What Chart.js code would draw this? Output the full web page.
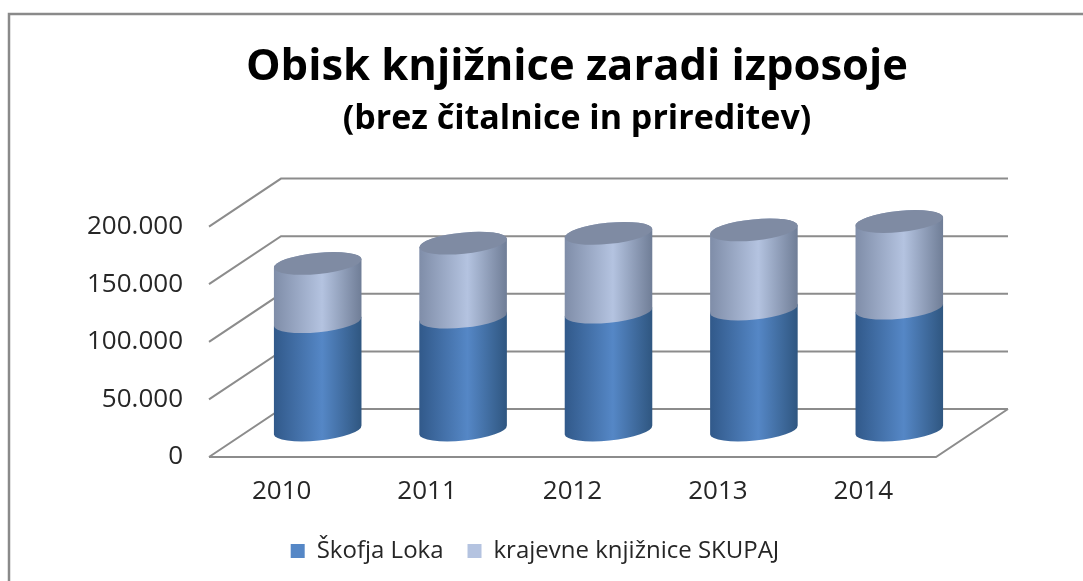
<!DOCTYPE html>
<html lang="en">
<head>
    <meta charset="UTF-8">
    <title>Obisk knjižnice zaradi izposoje</title>
    <script src="https://cdn.jsdelivr.net/npm/chart.js"></script>
    <style>
        body { margin: 0; background: #fff; }
        canvas { display: block; }
    </style>
</head>
<body>
    <canvas id="chart" width="1083" height="581"></canvas>

    <script>
        const years = ['2010', '2011', '2012', '2013', '2014'];
        const skofjaLoka = [94000, 98000, 102300, 105000, 105800];
        const krajevne = [50600, 64200, 68400, 68700, 75200];
        const seriesNames = ['Škofja Loka', 'krajevne knjižnice SKUPAJ'];
        const yTicks = [0, 50000, 100000, 150000, 200000];

        const fontName = '"Open Sans", sans-serif';
        const lineColor = '#8c8c8c';
        const depthX = 72, depthY = 48;   // how far the back wall sits behind the front plane
        const barLift = 3;
        const capTilt = -0.1, capRatio = 0.24;
        const barShare = 88 / 145.4;
        const blueStops = ['#31598a', '#5587c6', '#2f5680'];
        const lightStops = ['#7f8da8', '#b4c3e0', '#6f7d96'];

        function sideGradient(ctx, stops) {
            const chart = ctx.chart;
            if (!chart.scales.x || ctx.dataIndex === undefined) return stops[1];
            const step = chart.scales.x.width / years.length;
            const w = step * barShare;
            const cx = chart.scales.x.getPixelForValue(ctx.dataIndex);
            const g = chart.ctx.createLinearGradient(cx - w / 2, 0, cx + w / 2, 0);
            g.addColorStop(0, stops[0]);
            g.addColorStop(0.55, stops[1]);
            g.addColorStop(1, stops[2]);
            return g;
        }

        function drawCylinders(chart, index) {
            const c = chart.ctx;
            chart.getDatasetMeta(index).data.forEach(bar => {
                const rx = bar.width / 2, ry = rx * capRatio;
                c.beginPath();
                c.ellipse(bar.x, bar.base, rx, ry, capTilt, Math.PI, 0, true);
                c.ellipse(bar.x, bar.y, rx, ry, capTilt, 0, Math.PI, true);
                c.closePath();
                c.fillStyle = bar.options.backgroundColor;
                c.fill();
                if (index === 1) {
                    c.beginPath();
                    c.ellipse(bar.x, bar.y, rx, ry, capTilt, 0, Math.PI * 2);
                    c.fillStyle = '#7f8ba3';
                    c.fill();
                }
            });
        }

        // frame, walls, floor, then the cylinders taken from the bar elements
        const cylinderPlugin = {
            id: 'cylinders',
            beforeDatasetsDraw(chart) {
                const c = chart.ctx, area = chart.chartArea, y = chart.scales.y;
                c.save();
                c.strokeStyle = '#8a8a8a';
                c.lineWidth = 2.5;
                c.beginPath();
                c.moveTo(9, 581);
                c.lineTo(9, 14);
                c.lineTo(1083, 14);
                c.stroke();

                c.strokeStyle = lineColor;
                c.lineWidth = 2;
                c.beginPath();
                yTicks.forEach(t => {
                    const py = y.getPixelForValue(t);
                    c.moveTo(area.left, py);
                    c.lineTo(area.left + depthX, py - depthY);
                    c.lineTo(area.right + depthX, py - depthY);
                });
                c.moveTo(area.left, area.bottom);
                c.lineTo(area.right, area.bottom);
                c.lineTo(area.right + depthX, area.bottom - depthY);
                c.stroke();

                // bars stand half way back on the floor
                c.translate(depthX / 2, -depthY / 2 - barLift);
                drawCylinders(chart, 0);
                drawCylinders(chart, 1);
                c.restore();
            },
            beforeDatasetDraw() {
                return false;
            }
        };

        // legend sits a bit left of and above where the layout puts it
        const legendShift = {
            id: 'legendShift',
            beforeDraw(chart) {
                chart.legend.left -= 42;
                chart.legend.right -= 42;
                chart.legend.top -= 8;
            },
            afterDraw(chart) {
                chart.legend.left += 42;
                chart.legend.right += 42;
                chart.legend.top += 8;
            }
        };

        new Chart(document.getElementById('chart'), {
            type: 'bar',
            data: {
                labels: years,
                datasets: [
                    {
                        label: seriesNames[0],
                        data: skofjaLoka,
                        backgroundColor: ctx => sideGradient(ctx, blueStops),
                        borderWidth: 0
                    },
                    {
                        label: seriesNames[1],
                        data: krajevne,
                        backgroundColor: ctx => sideGradient(ctx, lightStops),
                        borderWidth: 0
                    }
                ]
            },
            plugins: [cylinderPlugin, legendShift],
            options: {
                responsive: false,
                animation: false,
                layout: { padding: { left: 71, right: 0, top: 0, bottom: 0 } },
                datasets: { bar: { barPercentage: 1, categoryPercentage: barShare } },
                scales: {
                    x: {
                        stacked: true,
                        afterFit: s => { s.height = 66; },
                        grid: { display: false, drawTicks: false },
                        border: { display: false },
                        ticks: { color: '#262626', padding: 19, font: { family: fontName, size: 26 } }
                    },
                    y: {
                        stacked: true,
                        min: 0,
                        max: 200000,
                        afterFit: s => { s.width = 138; },
                        afterBuildTicks: s => { s.ticks = yTicks.map(v => ({ value: v })); },
                        grid: { display: false, drawTicks: false },
                        border: { display: false },
                        ticks: {
                            color: '#262626',
                            padding: 26,
                            font: { family: fontName, size: 26 },
                            callback: v => v.toLocaleString('de-DE')
                        }
                    },
                    spacer: {
                        position: 'right',
                        afterFit: s => { s.width = 147; },
                        grid: { display: false },
                        border: { display: false },
                        ticks: { display: false }
                    }
                },
                plugins: {
                    title: {
                        display: true,
                        text: 'Obisk knjižnice zaradi izposoje',
                        color: '#000',
                        font: { family: fontName, size: 43.5, weight: 'bold', lineHeight: 1.2 },
                        padding: { top: 42, bottom: 3 }
                    },
                    subtitle: {
                        display: true,
                        text: '(brez čitalnice in prireditev)',
                        color: '#000',
                        font: { family: fontName, size: 34, weight: 'bold', lineHeight: 1.2 },
                        padding: { top: 2, bottom: 86.6 }
                    },
                    legend: {
                        position: 'bottom',
                        labels: {
                            color: '#262626',
                            font: { family: fontName, size: 24 },
                            boxWidth: 14,
                            boxHeight: 14,
                            padding: 24,
                            generateLabels: chart => seriesNames.map((name, i) => ({
                                text: name,
                                fillStyle: [blueStops[1], lightStops[1]][i],
                                strokeStyle: 'transparent',
                                lineWidth: 0,
                                datasetIndex: i,
                                fontColor: '#262626'
                            }))
                        }
                    },
                    tooltip: { enabled: false }
                }
            }
        });
    </script>
</body>
</html>
